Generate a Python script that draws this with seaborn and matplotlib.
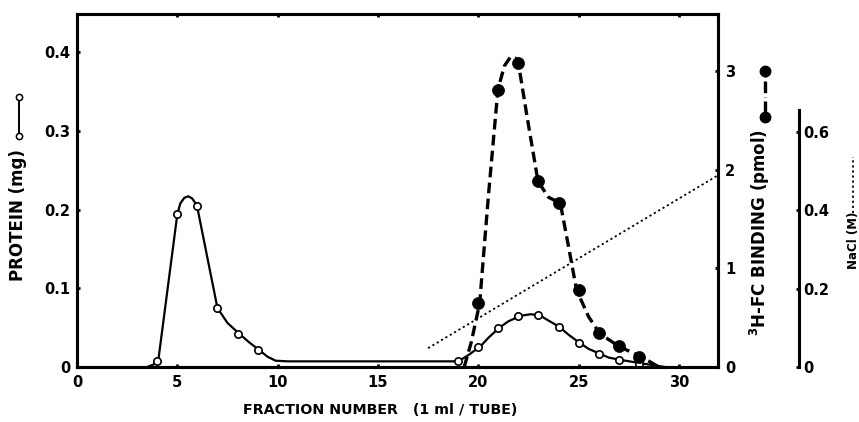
import matplotlib
matplotlib.use("Agg")
import matplotlib.pyplot as plt
from matplotlib.lines import Line2D
import seaborn as sns
import pandas as pd

# ---------------- data ----------------
# Protein (mg), sampled fractions (open circles)
protein_frac = [4, 5, 6, 7, 8, 9, 19, 20, 21, 22, 23, 24, 25, 26, 27, 28]
protein_mg = [0.008, 0.194, 0.205, 0.075, 0.042, 0.022, 0.008, 0.026,
              0.050, 0.065, 0.066, 0.051, 0.031, 0.017, 0.009, 0.004]
# Protein curve as traced on the picture
protein_curve_x = [3.5, 3.8, 4.05, 5.0, 5.15, 5.35, 5.55, 5.75, 5.98, 7.0, 7.5,
                   8.1, 8.6, 9.06, 9.5, 9.9, 10.5, 19.0, 19.5, 20.1, 20.5, 21.05,
                   21.5, 22.1, 22.6, 23.04, 23.5, 24.05, 24.5, 25.04, 25.5, 26.05,
                   26.5, 27.1, 28.3, 29.3]
protein_curve_y = [0.0, 0.003, 0.008, 0.194, 0.208, 0.215, 0.217, 0.214, 0.205,
                   0.075, 0.056, 0.042, 0.031, 0.022, 0.013, 0.008, 0.0072,
                   0.0072, 0.015, 0.026, 0.037, 0.050, 0.058, 0.065, 0.067, 0.066,
                   0.059, 0.051, 0.041, 0.031, 0.023, 0.017, 0.012, 0.009, 0.004,
                   0.0]

# 3H-FC binding (pmol), sampled fractions (filled circles)
binding_frac = [20, 21, 22, 23, 24, 25, 26, 27, 28]
binding_pmol = [0.645, 2.81, 3.08, 1.88, 1.66, 0.78, 0.34, 0.21, 0.10]
# Binding curve as traced on the picture
binding_curve_x = [19.3, 19.65, 20.07, 20.5, 20.98, 21.3, 21.6, 21.85, 22.0,
                   22.43, 22.98, 23.5, 24.09, 24.5, 24.9, 25.5, 26.05, 27.0,
                   28.16, 29.0]
binding_curve_y = [0.0, 0.25, 0.645, 1.72, 2.81, 3.05, 3.14, 3.13, 3.08, 2.54,
                   1.88, 1.72, 1.66, 1.22, 0.78, 0.51, 0.34, 0.21, 0.10, 0.0]

# NaCl gradient (M)
nacl_frac = [17.5, 32.0]
nacl_M = [0.048, 0.49]

x_ticks = [0, 5, 10, 15, 20, 25, 30]
protein_ticks = [0, 0.1, 0.2, 0.3, 0.4]
protein_labels = ["0", "0.1", "0.2", "0.3", "0.4"]
binding_ticks = [0, 1, 2, 3]
nacl_ticks = [0, 0.2, 0.4, 0.6]
nacl_labels = ["0", "0.2", "0.4", "0.6"]

# ---------------- style ----------------
sns.set_theme(style="ticks")
plt.rcParams["font.family"] = ["DejaVu Sans"]
plt.rcParams["font.weight"] = "bold"
plt.rcParams["mathtext.default"] = "bf"
for k in ("text.color", "axes.labelcolor", "xtick.color", "ytick.color",
          "axes.edgecolor"):
    plt.rcParams[k] = "black"

W, H = 859, 422
fig = plt.figure(figsize=(W / 100, H / 100), dpi=100)
L, R, T, B = 77, 718, 14, 367
ax = fig.add_axes([L / W, 1 - B / H, (R - L) / W, (B - T) / H])
ax2 = ax.twinx()
ax3 = ax.twinx()
for a in (ax, ax2, ax3):
    a.set_facecolor("none")
    a.grid(False)

SP = 2.2
TICKKW = dict(direction="in", length=2.5, width=2.0, labelsize=10.5,
              colors="black")

# protein
dfp_c = pd.DataFrame({"x": protein_curve_x, "y": protein_curve_y})
dfp = pd.DataFrame({"x": protein_frac, "y": protein_mg})
sns.lineplot(data=dfp_c, x="x", y="y", ax=ax, color="black", lw=1.6, sort=False)
sns.scatterplot(data=dfp, x="x", y="y", ax=ax, s=28, facecolor="white",
                edgecolor="black", linewidth=1.2, zorder=5)

# binding
dfb_c = pd.DataFrame({"x": binding_curve_x, "y": binding_curve_y})
dfb = pd.DataFrame({"x": binding_frac, "y": binding_pmol})
sns.lineplot(data=dfb_c, x="x", y="y", ax=ax2, color="black", lw=2.4,
             sort=False)
ax2.lines[-1].set_dashes((3.2, 1.6))
sns.scatterplot(data=dfb, x="x", y="y", ax=ax2, s=75, color="black",
                edgecolor="black", linewidth=0.5, zorder=5)

# NaCl
dfn = pd.DataFrame({"x": nacl_frac, "y": nacl_M})
sns.lineplot(data=dfn, x="x", y="y", ax=ax3, color="black", lw=1.3)
ax3.lines[-1].set_linestyle((0, (1.2, 1.6)))

# ---------------- axes ----------------
ax.set_xlim(0, 31.95)
ax.set_ylim(0, 0.4486)
ax2.set_ylim(0, 3.577)
ax3.set_ylim(0, 0.8994)

ax.set_xticks(x_ticks)
ax.set_xticklabels([str(v) for v in x_ticks], fontweight="bold")
ax.set_yticks(protein_ticks)
ax.set_yticklabels(protein_labels, fontweight="bold")
ax.tick_params(axis="x", top=True, pad=6, **TICKKW)
ax.tick_params(axis="y", pad=5, **TICKKW)
ax.set_xlabel("")
ax.set_ylabel("")

ax2.set_yticks(binding_ticks)
ax2.set_yticklabels([str(v) for v in binding_ticks], fontweight="bold")
ax2.tick_params(axis="y", pad=5, **TICKKW)
ax2.set_ylabel("")

ax3.set_yticks(nacl_ticks)
ax3.set_yticklabels(nacl_labels, fontweight="bold")
ax3.tick_params(axis="y", pad=3, **TICKKW)
ax3.set_ylabel("")
ax3.spines["right"].set_position(("axes", (799 - L) / (R - L)))
ax3.spines["right"].set_bounds(0, 0.655)

for a in (ax, ax2):
    for s in a.spines.values():
        s.set_linewidth(SP)
        s.set_color("black")
for name in ("left", "top", "bottom"):
    ax3.spines[name].set_visible(False)
ax3.spines["right"].set_linewidth(SP)
ax3.spines["right"].set_color("black")

# ---------------- labels ----------------
fig.text(380 / W, 1 - 410 / H, "FRACTION NUMBER   (1 ml / TUBE)",
         ha="center", va="center", fontsize=10.3, fontweight="bold")
fig.text(18 / W, 1 - 215 / H, "PROTEIN (mg)", rotation=90,
         ha="center", va="center", fontsize=12, fontweight="bold")
fig.text(760 / W, 1 - 232 / H, r"$^{3}$H-FC BINDING (pmol)", rotation=90,
         ha="center", va="center", fontsize=12, fontweight="bold")
fig.text(853 / W, 1 - 240 / H, "NaCl (M)", rotation=90,
         ha="center", va="center", fontsize=8.5, fontweight="bold")

# legend keys next to axis labels
fig.add_artist(Line2D([19 / W, 19 / W], [1 - 136 / H, 1 - 97 / H],
                      transform=fig.transFigure, color="black", lw=1.4,
                      marker="o", ms=4.5, mfc="white", mec="black", mew=1.1))
fig.add_artist(Line2D([765 / W, 765 / W], [1 - 117 / H, 1 - 71 / H],
                      transform=fig.transFigure, color="black", lw=2.4,
                      dashes=(0.1, 1.2, 3.5, 1.2), marker="o", ms=7.5,
                      mfc="black", mec="black"))
fig.add_artist(Line2D([853 / W, 853 / W], [1 - 213 / H, 1 - 157 / H],
                      transform=fig.transFigure, color="black", lw=1.3,
                      linestyle=(0, (1.2, 1.6))))

fig.savefig("out.png", dpi=100)
